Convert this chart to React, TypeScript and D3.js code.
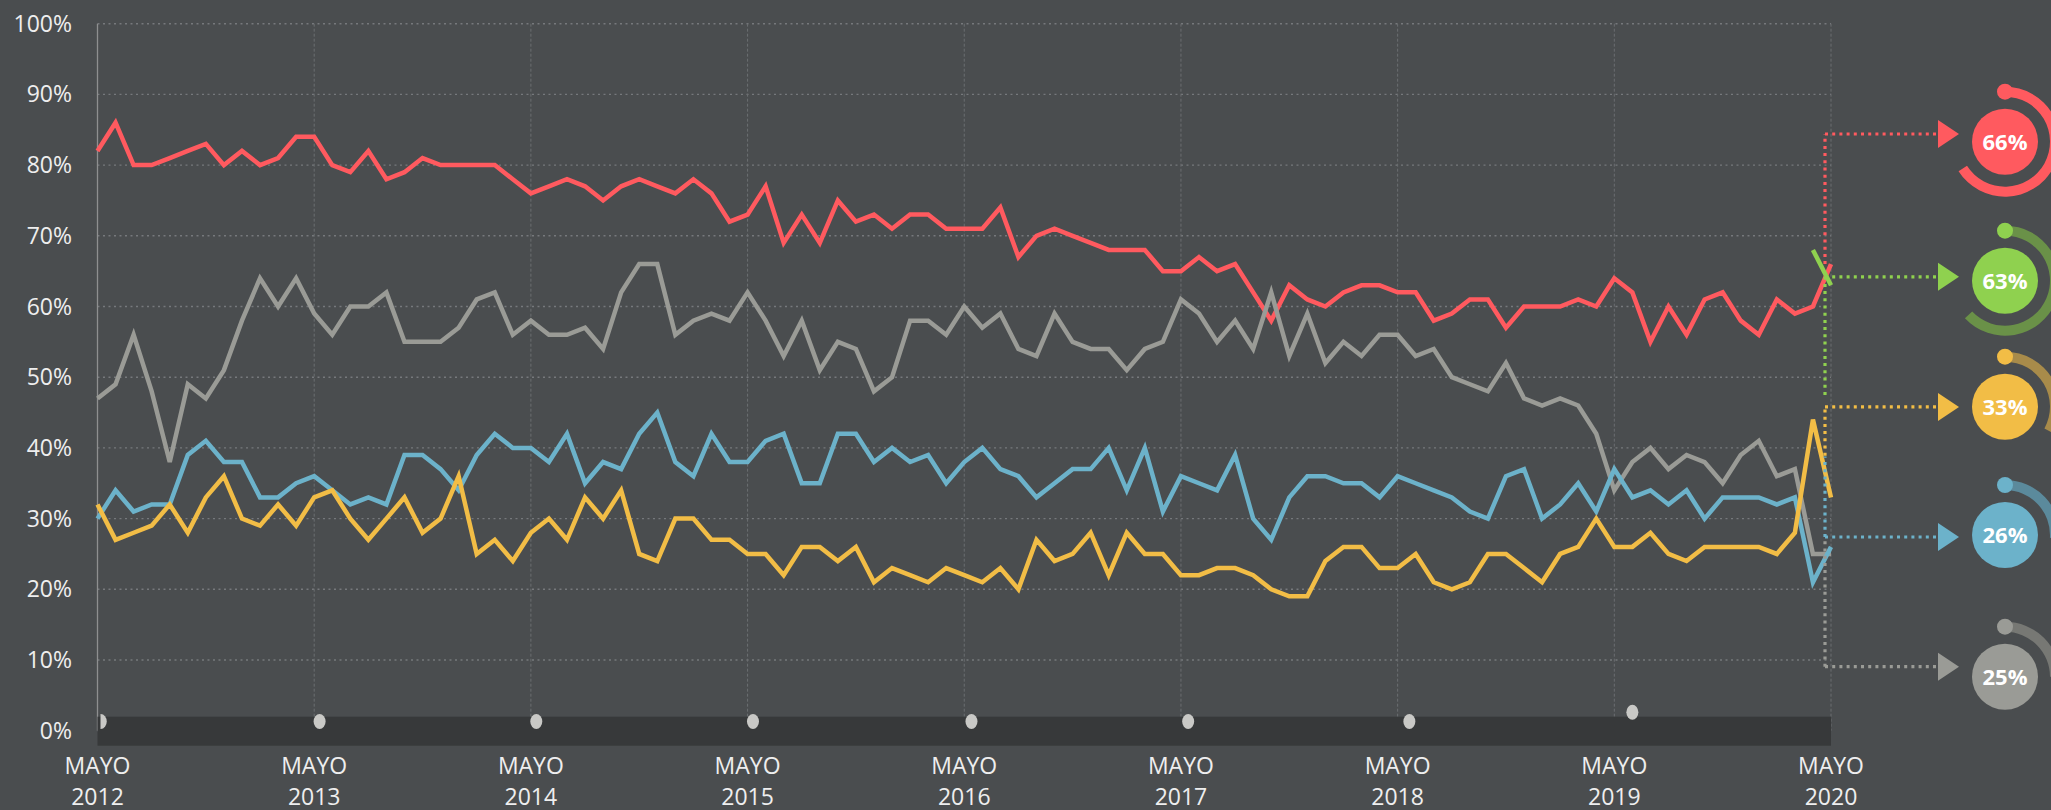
import React from "react";
import { scaleLinear, line, arc } from "d3";

// monthly readings, May 2012 .. May 2020 (97 months)
const years = [2012, 2013, 2014, 2015, 2016, 2017, 2018, 2019, 2020];
const tickWord = "MAYO";
const yTicks = [0, 10, 20, 30, 40, 50, 60, 70, 80, 90, 100];

const red = [
  82, 86, 80, 80, 81, 82, 83, 80, 82, 80, 81, 84, 84, 80, 79, 82, 78, 79, 81, 80, 80, 80, 80, 78, 76,
  77, 78, 77, 75, 77, 78, 77, 76, 78, 76, 72, 73, 77, 69, 73, 69, 75, 72, 73, 71, 73, 73, 71, 71,
  71, 74, 67, 70, 71, 70, 69, 68, 68, 68, 65, 65, 67, 65, 66, 62, 58, 63, 61, 60, 62, 63, 63, 62,
  62, 58, 59, 61, 61, 57, 60, 60, 60, 61, 60, 64, 62, 55, 60, 56, 61, 62, 58, 56, 61, 59, 60, 66,
];
const gray = [
  47, 49, 56, 48, 38, 49, 47, 51, 58, 64, 60, 64, 59, 56, 60, 60, 62, 55, 55, 55, 57, 61, 62, 56, 58,
  56, 56, 57, 54, 62, 66, 66, 56, 58, 59, 58, 62, 58, 53, 58, 51, 55, 54, 48, 50, 58, 58, 56, 60,
  57, 59, 54, 53, 59, 55, 54, 54, 51, 54, 55, 61, 59, 55, 58, 54, 62, 53, 59, 52, 55, 53, 56, 56,
  53, 54, 50, 49, 48, 52, 47, 46, 47, 46, 42, 34, 38, 40, 37, 39, 38, 35, 39, 41, 36, 37, 25, 25,
];
const blue = [
  30, 34, 31, 32, 32, 39, 41, 38, 38, 33, 33, 35, 36, 34, 32, 33, 32, 39, 39, 37, 34, 39, 42, 40, 40,
  38, 42, 35, 38, 37, 42, 45, 38, 36, 42, 38, 38, 41, 42, 35, 35, 42, 42, 38, 40, 38, 39, 35, 38,
  40, 37, 36, 33, 35, 37, 37, 40, 34, 40, 31, 36, 35, 34, 39, 30, 27, 33, 36, 36, 35, 35, 33, 36,
  35, 34, 33, 31, 30, 36, 37, 30, 32, 35, 31, 37, 33, 34, 32, 34, 30, 33, 33, 33, 32, 33, 21, 26,
];
const yellow = [
  32, 27, 28, 29, 32, 28, 33, 36, 30, 29, 32, 29, 33, 34, 30, 27, 30, 33, 28, 30, 36, 25, 27, 24, 28,
  30, 27, 33, 30, 34, 25, 24, 30, 30, 27, 27, 25, 25, 22, 26, 26, 24, 26, 21, 23, 22, 21, 23, 22,
  21, 23, 20, 27, 24, 25, 28, 22, 28, 25, 25, 22, 22, 23, 23, 22, 20, 19, 19, 24, 26, 26, 23, 23,
  25, 21, 20, 21, 25, 25, 23, 21, 25, 26, 30, 26, 26, 28, 25, 24, 26, 26, 26, 26, 25, 28, 44, 33,
];
// green only appears in the last two months
const greenStart = 95;
const green = [68, 63];

// event markers on the timeline band (month offsets, level in %)
const markerMonths = [0.18, 12.3, 24.3, 36.3, 48.4, 60.4, 72.65, 85.0];
const markerLevels = [1.3, 1.3, 1.3, 1.3, 1.3, 1.3, 1.3, 2.6];

// latest values shown in the donuts
const donutNames = ["red", "green", "yellow", "blue", "gray"];
const donutValues = [66, 63, 33, 26, 25];

const colors = {
  red: "#ff5a5f",
  green: "#8fd14f",
  yellow: "#f2bd46",
  blue: "#6cb2ca",
  gray: "#9a9b96",
};
const ringColors = {
  red: "#ff5a5f",
  green: "#6a9148",
  yellow: "#a88b4a",
  blue: "#5b8a9c",
  gray: "#777874",
};

// where each arrow sits (in %), and the dotted connector ranges
const arrowLevels = [84.4, 64.2, 45.8, 27.4, 9.05];
const connectorRanges = [
  [66, 84.4],
  [47.5, 64.2],
  [38.9, 45.8],
  [27.4, 38.8],
  [9.05, 26.9],
];
const donutCy = [141.7, 280.7, 406.7, 535, 676.7];

const width = 2051;
const height = 810;
const BG = "#4a4d4f";
const FONT = "'Open Sans', sans-serif";

export default function App() {
  const x = scaleLinear().domain([0, 96]).range([97.5, 1831]);
  const y = scaleLinear().domain([0, 100]).range([730.7, 23.7]);

  const path = line<number>()
    .x((d, i) => x(i))
    .y((d) => y(d));
  const greenPath = line<number>()
    .x((d, i) => x(greenStart + i))
    .y((d) => y(d));

  const lines = [
    { key: "red", data: red },
    { key: "gray", data: gray },
    { key: "blue", data: blue },
    { key: "yellow", data: yellow },
  ];

  const connX = 1825;
  const arrowBase = 1938;
  const arrowTip = 1959;
  const donutCx = 2005;

  return (
    <svg
      width={width}
      height={height}
      style={{ position: "absolute", left: 0, top: 0, background: BG }}
    >
      <defs>
        <clipPath id="markerClip">
          <rect x={x(0) + 3} y={0} width={width} height={height} />
        </clipPath>
      </defs>
      <rect width={width} height={height} fill={BG} />

      {/* horizontal dotted grid */}
      {yTicks.map((t) => (
        <line
          key={"h" + t}
          x1={x(0)}
          x2={x(96)}
          y1={y(t)}
          y2={y(t)}
          stroke="#76797c"
          strokeWidth={1.4}
          strokeDasharray="2,3.5"
        />
      ))}
      {/* vertical year grid */}
      {years.map((yr, i) =>
        i === 0 ? null : (
          <line
            key={"v" + yr}
            x1={x(i * 12)}
            x2={x(i * 12)}
            y1={y(100)}
            y2={y(0)}
            stroke="#6b6e71"
            strokeWidth={1}
            strokeDasharray="3,2"
          />
        )
      )}
      <line x1={x(0)} x2={x(0)} y1={y(100)} y2={y(0)} stroke="#8e8f90" strokeWidth={1.3} />

      {/* timeline band */}
      <rect x={x(0)} y={716.7} width={x(96) - x(0)} height={29} fill="#37393a" />
      <g clipPath="url(#markerClip)">
        {markerMonths.map((m, i) => (
          <ellipse
            key={"m" + i}
            cx={x(m)}
            cy={y(markerLevels[i])}
            rx={6}
            ry={7.5}
            fill="#c9c9c6"
          />
        ))}
      </g>

      {/* y labels */}
      {yTicks.map((t) => (
        <text
          key={"yl" + t}
          x={72}
          y={y(t)}
          dy="0.35em"
          textAnchor="end"
          fontFamily={FONT}
          fontSize={23}
          fill="#eeeeee"
        >
          {t}%
        </text>
      ))}
      {/* x labels */}
      {years.map((yr, i) => (
        <g key={"xl" + yr} fontFamily={FONT} fontSize={23} fill="#eeeeee" textAnchor="middle">
          <text x={x(i * 12)} y={773.5}>
            {tickWord}
          </text>
          <text x={x(i * 12)} y={805}>
            {yr}
          </text>
        </g>
      ))}

      {/* series */}
      {lines.map((s) => (
        <path
          key={s.key}
          d={path(s.data) || ""}
          fill="none"
          stroke={colors[s.key]}
          strokeWidth={4.5}
        />
      ))}
      <path d={greenPath(green) || ""} fill="none" stroke={colors.green} strokeWidth={4.5} />

      {/* connectors */}
      {donutNames.map((k, i) => {
        const [a, b] = connectorRanges[i];
        const ly = y(arrowLevels[i]);
        return (
          <g key={"c" + k} stroke={colors[k]} strokeWidth={3.2} strokeDasharray="3,4.2" fill="none">
            <line x1={connX} x2={connX} y1={y(a)} y2={y(b)} />
            <line x1={connX} x2={arrowBase} y1={ly} y2={ly} />
          </g>
        );
      })}
      {donutNames.map((k, i) => {
        const ly = y(arrowLevels[i]);
        return (
          <polygon
            key={"a" + k}
            points={`${arrowBase},${ly - 14} ${arrowBase},${ly + 14} ${arrowTip},${ly}`}
            fill={colors[k]}
          />
        );
      })}

      {/* donuts */}
      {donutNames.map((k, i) => {
        const cy = donutCy[i];
        const ring = arc()({
          innerRadius: 45,
          outerRadius: 55,
          startAngle: 0,
          endAngle: (donutValues[i] / 100) * 2 * Math.PI,
        } as any);
        return (
          <g key={"d" + k} transform={`translate(${donutCx},${cy})`}>
            <path d={ring || ""} fill={ringColors[k]} />
            <circle cx={0} cy={-50} r={8} fill={colors[k]} />
            <circle r={33} fill={colors[k]} />
            <text
              dy="0.36em"
              textAnchor="middle"
              fontFamily={FONT}
              fontWeight={700}
              fontSize={22}
              fill="#ffffff"
            >
              {donutValues[i]}%
            </text>
          </g>
        );
      })}
    </svg>
  );
}
